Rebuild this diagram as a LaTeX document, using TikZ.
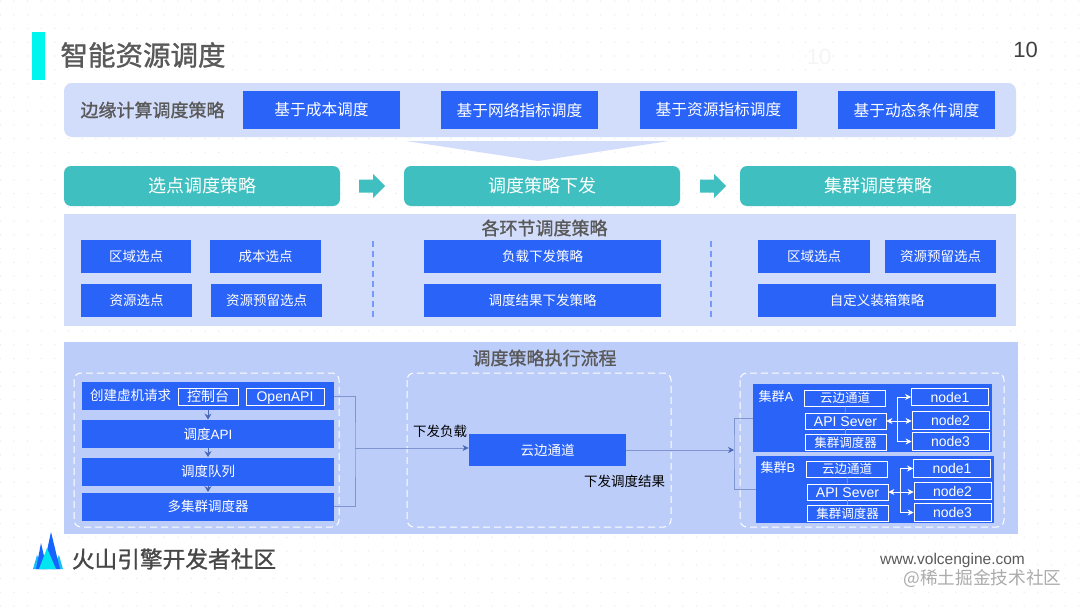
\documentclass[tikz,border=0pt]{standalone}
\usepackage{fontspec}
\setmainfont{Noto Sans CJK SC}
\newfontfamily\latinfont{Liberation Sans}
\newfontfamily\midfont[FakeBold=1.2]{Noto Sans CJK SC}
\usetikzlibrary{arrows.meta}
\definecolor{barcyan}{HTML}{00F5EE}
\definecolor{titlegray}{HTML}{595959}
\definecolor{bandlight}{HTML}{CEDAFB}
\definecolor{banddeep}{HTML}{BCCDFA}
\definecolor{boxblue}{HTML}{2A63F8}
\definecolor{teal}{HTML}{3FBFBF}
\definecolor{linkblue}{HTML}{8095D0}
\definecolor{tipblue}{HTML}{4A68B8}
\definecolor{dotgray}{HTML}{EBEBEB}
\definecolor{logoblue}{HTML}{1664FF}
\definecolor{logocyan}{HTML}{00E5F0}
\definecolor{logosky}{HTML}{19C0F5}

\begin{document}
\begin{tikzpicture}[x=1pt, y=-1pt, line width=.8,
  bluebox/.style={fill=boxblue, text=white, inner sep=0, font=\fontsize{13.5}{14}\selectfont},
  tealbox/.style={fill=teal, text=white, rounded corners=7, inner sep=0,
    minimum width=276, minimum height=40, font=\fontsize{18}{18}\selectfont},
  topbox/.style={bluebox, minimum width=157, minimum height=38, font=\fontsize{15.7}{16}\selectfont},
  subbox/.style={bluebox, minimum height=33},
  flowbox/.style={bluebox, minimum width=252, minimum height=28},
  tagbox/.style={draw=white, fill=boxblue, text=white, inner sep=0, font=\fontsize{12.5}{13}\selectfont},
  latintext/.style={font=\latinfont\fontsize{14}{14}\selectfont, text height=10, text depth=0},
  headline/.style={text=titlegray, font=\midfont\fontsize{18}{18}\selectfont},
  groupbox/.style={draw=white, dashed, dash pattern=on 7 off 4, rounded corners=7, line width=1},
  partbox/.style={tagbox, minimum width=81, minimum height=16},
  hostbox/.style={tagbox, latintext, minimum width=77, minimum height=17.5},
  divider/.style={draw=boxblue!65, dashed, dash pattern=on 6 off 4, line width=1.2},
  link/.style={draw=linkblue, line width=.7},
  tip/.style={-{Stealth[length=6,width=6,color=tipblue]}},
  steptip/.style={draw=tipblue, -{Stealth[length=6,width=7]}},
  inner/.style={draw=white, line width=.7},
  innertip/.style={inner, -{Stealth[length=6,width=6]}},
  innerboth/.style={inner, {Stealth[length=6,width=6]}-{Stealth[length=6,width=6]}},
]
\useasboundingbox (0,0) rectangle (1080,608);
\fill[white] (0,0) rectangle (1080,608);
\foreach \i in {0,...,79}
  \foreach \j in {0,...,44}
    \fill[dotgray] (.35+13.65*\i,1+13.75*\j) circle (.75);

\fill[barcyan] (32,32) rectangle (45,80);
\node[text=titlegray, font=\midfont\fontsize{27.5}{28}\selectfont] (title) at (143,55) {智能资源调度};
\node[text=black!75, font=\latinfont\fontsize{22}{22}\selectfont] (pageno) at (1025.5,50) {10};
\node[text=black!4, font=\latinfont\fontsize{22}{22}\selectfont] (pageshade) at (819,57) {10};

\fill[bandlight, fill opacity=.9, rounded corners=8] (64,83) rectangle (1016,137);
\node[text=titlegray, font=\midfont\fontsize{18}{18}\selectfont] (edgehead) at (152.5,110) {边缘计算调度策略};
\node[topbox] (costtop) at (321.5,110) {基于成本调度};
\node[topbox] (nettop) at (519.5,110) {基于网络指标调度};
\node[topbox] (restop) at (718.5,110) {基于资源指标调度};
\node[topbox] (dyntop) at (916.5,110) {基于动态条件调度};
\fill[bandlight, fill opacity=.9] (406,141) -- (669,141) -- (538,161) -- cycle;

\node[tealbox] (sitestage) at (202,186) {选点调度策略};
\node[tealbox] (sendstage) at (542,186) {调度策略下发};
\node[tealbox] (clusterstage) at (878,186) {集群调度策略};
\fill[teal] (359,179.5) -- (373,179.5) -- (373,174) -- (385,186) -- (373,198) -- (373,192.5) -- (359,192.5) -- cycle;
\fill[teal] (700,179.5) -- (714,179.5) -- (714,174) -- (726,186) -- (714,198) -- (714,192.5) -- (700,192.5) -- cycle;

\fill[bandlight, fill opacity=.9] (64,214) rectangle (1016,326);
\node[headline] (stephead) at (544.5,228) {各环节调度策略};
\node[subbox, minimum width=110] (areaa) at (136,256.5) {区域选点};
\node[subbox, minimum width=111] (costa) at (265.5,256.5) {成本选点};
\node[subbox, minimum width=111] (resa) at (136.5,300.5) {资源选点};
\node[subbox, minimum width=111] (keepa) at (266.5,300.5) {资源预留选点};
\node[subbox, minimum width=237] (loadb) at (542.5,256.5) {负载下发策略};
\node[subbox, minimum width=237] (resultb) at (542.5,300.5) {调度结果下发策略};
\node[subbox, minimum width=112] (areac) at (814,256.5) {区域选点};
\node[subbox, minimum width=111] (keepc) at (940.5,256.5) {资源预留选点};
\node[subbox, minimum width=238] (packc) at (877,300.5) {自定义装箱策略};
\draw[divider] (373,241) -- (373,320);
\draw[divider] (711,241) -- (711,320);

\fill[banddeep] (64,342) rectangle (1018,534);
\node[headline] (flowhead) at (544.5,358) {调度策略执行流程};
\draw[groupbox] (74,373) rectangle (339,527);
\draw[groupbox] (407,373) rectangle (671,527);
\draw[groupbox] (740,373) rectangle (1004,527);

\node[flowbox] (request) at (208,396) {};
\node[flowbox] (api) at (208,434) {调度{\latinfont API}};
\node[flowbox] (queue) at (208,471.5) {调度队列};
\node[flowbox] (multi) at (208,506.5) {多集群调度器};
\node[text=white, font=\fontsize{13.5}{14}\selectfont] (reqtext) at (130.5,395.5) {创建虚机请求};
\node[tagbox, minimum width=60, minimum height=17, font=\fontsize{14}{14}\selectfont] (console) at (208,396.5) {控制台};
\node[tagbox, latintext, minimum width=78, minimum height=17] (openapi) at (285,396.5) {OpenAPI};
\draw[steptip] (request) -- (api);
\draw[steptip] (api) -- (queue);
\draw[steptip] (queue) -- (multi);

\node[bluebox, minimum width=157, minimum height=32] (tunnel) at (547.5,450) {云边通道};
\node[font=\fontsize{13.5}{14}\selectfont] (sendload) at (440,431) {下发负载};
\node[font=\fontsize{13.5}{14}\selectfont] (sendresult) at (624.5,481) {下发调度结果};
\coordinate (leftjoin) at (355,448);
\draw[link] (request.east) -| (leftjoin) |- (multi.east);
\draw[link, tip] (leftjoin) -- (tunnel.west |- leftjoin);

\node[bluebox, minimum width=239, minimum height=68] (clustera) at (872.5,418) {};
\node[bluebox, minimum width=238, minimum height=67] (clusterb) at (875,489.5) {};
\node[text=white, font=\fontsize{13}{13}\selectfont] (namea) at (776,396.5) {集群{\latinfont A}};
\node[text=white, font=\fontsize{13}{13}\selectfont] (nameb) at (778,468) {集群{\latinfont B}};

\node[partbox] (tunnela) at (845,398) {云边通道};
\node[partbox, latintext] (apia) at (845.5,421) {API Sever};
\node[partbox] (schera) at (845.5,442.5) {集群调度器};
\node[hostbox] (nodeaa) at (950,397) {node1};
\node[hostbox] (nodeab) at (950.5,420.5) {node2};
\node[hostbox] (nodeac) at (950.5,441.5) {node3};
\draw[draw=white!40!boxblue] (tunnela) -- (apia);
\draw[draw=white!40!boxblue] (apia) -- (schera);
\coordinate (trunka) at (897,421);
\draw[innerboth] (apia.east) -- (nodeab.west |- apia.east);
\draw[innertip] (trunka) |- (nodeaa.west);
\draw[innertip] (trunka) |- (nodeac.west);

\node[partbox] (tunnelb) at (847,469) {云边通道};
\node[partbox, latintext] (apib) at (847.5,492) {API Sever};
\node[partbox] (scherb) at (847.5,513.5) {集群调度器};
\node[hostbox] (nodeba) at (952,468.5) {node1};
\node[hostbox] (nodebb) at (952.5,491) {node2};
\node[hostbox] (nodebc) at (952.5,512.5) {node3};
\draw[draw=white!40!boxblue] (tunnelb) -- (apib);
\draw[draw=white!40!boxblue] (apib) -- (scherb);
\coordinate (trunkb) at (900,492);
\draw[innerboth] (apib.east) -- (nodebb.west |- apib.east);
\draw[innertip] (trunkb) |- (nodeba.west);
\draw[innertip] (trunkb) |- (nodebc.west);

\coordinate (rightjoin) at (734,450);
\draw[link, tip] (tunnel.east) -- (rightjoin);
\draw[link] (clustera.west |- 0,418) -| (rightjoin) |- (clusterb.west |- 0,489);

\fill[logosky] (33,569) -- (37,555) -- (44,569) -- cycle;
\fill[logosky] (63,569) -- (59,555) -- (52,569) -- cycle;
\fill[logoblue] (36,569) -- (41,543) -- (47,569) -- cycle;
\fill[logoblue] (43,569) -- (51,532) -- (60,569) -- cycle;
\fill[logocyan] (39,569) -- (47,548) -- (56,569) -- cycle;
\node[text=black!72, font=\midfont\fontsize{22.7}{23}\selectfont] (brand) at (174,559) {火山引擎开发者社区};
\node[text=black!65, font=\latinfont\fontsize{15.5}{16}\selectfont] (site) at (952.5,560) {www.volcengine.com};
\node[text=black!33, font=\fontsize{17.7}{18}\selectfont] (mark) at (982.5,579) {@稀土掘金技术社区};
\end{tikzpicture}
\end{document}
